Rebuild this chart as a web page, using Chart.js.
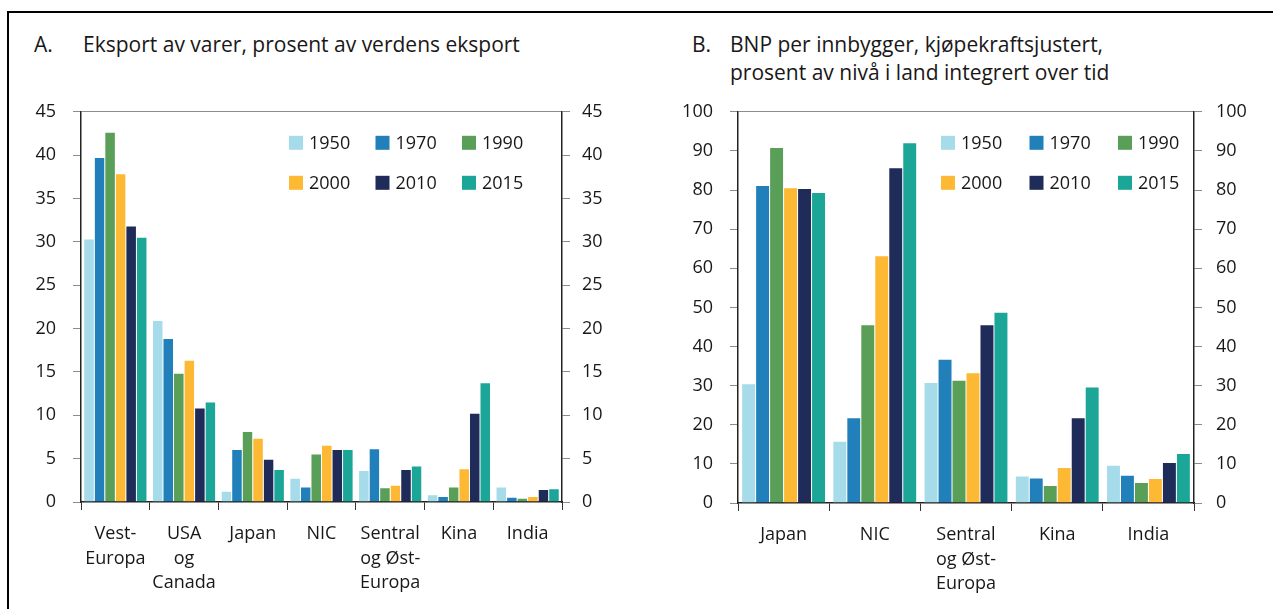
<!DOCTYPE html>
<html>
<head>
<meta charset="utf-8">
<script src="https://cdn.jsdelivr.net/npm/chart.js@4.4.1/dist/chart.umd.min.js"></script>
<style>
  html, body { margin: 0; padding: 0; background: #fff; overflow: hidden; }
  body { width: 1273px; height: 609px; position: relative; font-family: "Open Sans", sans-serif; color: #1a1718; }
  .frame { position: absolute; left: 7px; top: 11px; width: 1400px; height: 700px; border: 2px solid #000; }
  .title { position: absolute; font-size: 21px; line-height: 28px; white-space: nowrap; }
  .title .lbl { position: absolute; left: 0; top: 0; }
  .title .txt { position: absolute; top: 0; }
  .wrap { position: absolute; top: 84px; height: 525px; }
</style>
</head>
<body>
<div class="frame"></div>
<div class="title" style="left:34px; top:30px;">
  <span class="lbl">A.</span><span class="txt" style="left:49px;">Eksport av varer, prosent av verdens eksport</span>
</div>
<div class="title" style="left:692px; top:30px;">
  <span class="lbl">B.</span><span class="txt" style="left:38px;">BNP per innbygger, kjøpekraftsjustert,<br>prosent av nivå i land integrert over tid</span>
</div>
<div class="wrap" style="left:0; width:640px;"><canvas id="chartA" width="640" height="525"></canvas></div>
<div class="wrap" style="left:640px; width:633px;"><canvas id="chartB" width="633" height="525"></canvas></div>
<script>
  // Series names and colours
  const years = ['1950', '1970', '1990', '2000', '2010', '2015'];
  const colors = ['#a6dbe9', '#2180ba', '#5a9f58', '#fdb933', '#1f2b59', '#1ba698'];

  // A. Eksport av varer, prosent av verdens eksport
  const categoriesA = [['Vest-', 'Europa'], ['USA', 'og', 'Canada'], 'Japan', 'NIC', ['Sentral', 'og Øst-', 'Europa'], 'Kina', 'India'];
  const a1950 = [30.4, 21.0, 1.3, 2.8, 3.7, 0.9, 1.8];
  const a1970 = [39.8, 18.9, 6.1, 1.8, 6.2, 0.7, 0.6];
  const a1990 = [42.7, 14.9, 8.2, 5.6, 1.7, 1.8, 0.5];
  const a2000 = [37.9, 16.4, 7.4, 6.6, 2.0, 3.9, 0.7];
  const a2010 = [31.9, 10.9, 5.0, 6.1, 3.8, 10.3, 1.5];
  const a2015 = [30.6, 11.6, 3.8, 6.1, 4.2, 13.8, 1.6];

  // B. BNP per innbygger, kjøpekraftsjustert
  const categoriesB = ['Japan', 'NIC', ['Sentral', 'og Øst-', 'Europa'], 'Kina', 'India'];
  const b1950 = [30.6, 15.9, 30.9, 7.0, 9.8];
  const b1970 = [81.3, 21.9, 36.9, 6.5, 7.2];
  const b1990 = [91.0, 45.7, 31.5, 4.6, 5.4];
  const b2000 = [80.7, 63.3, 33.4, 9.2, 6.4];
  const b2010 = [80.5, 85.8, 45.7, 21.9, 10.5];
  const b2015 = [79.5, 92.2, 48.9, 29.8, 12.8];

  const textColor = '#1a1718';
  const fontSpec = { family: '"Open Sans", sans-serif', size: 18 };

  // Legend drawn as a 3 x 2 grid inside the plot area
  const gridLegend = {
    id: 'gridLegend',
    afterDraw(chart, args, opts) {
      const { ctx, chartArea } = chart;
      ctx.save();
      ctx.font = '18px "Open Sans", sans-serif';
      ctx.textBaseline = 'middle';
      ctx.textAlign = 'left';
      chart.data.datasets.forEach((ds, i) => {
        const col = i % 3, row = Math.floor(i / 3);
        const x = chartArea.left + opts.x + col * opts.colW;
        const y = chartArea.top + opts.y + row * opts.rowH;
        ctx.fillStyle = ds.backgroundColor;
        ctx.fillRect(x, y - 7, 14, 14);
        ctx.fillStyle = textColor;
        ctx.fillText(ds.label, x + 20, y + 1);
      });
      ctx.restore();
    }
  };

  function makeChart(id, labels, series, max, step, fit, legendPos) {
    const datasets = series.map((values, i) => ({
      label: years[i],
      data: values,
      backgroundColor: colors[i],
      borderColor: 'rgba(255,255,255,0.7)',
      borderWidth: { top: 1, left: 0.5, right: 0.5, bottom: 0 },
      borderSkipped: 'bottom',
      categoryPercentage: 0.92,
      barPercentage: 1.0,
      yAxisID: 'y'
    }));

    return new Chart(document.getElementById(id), {
      type: 'bar',
      data: { labels: labels, datasets: datasets },
      options: {
        responsive: false,
        animation: false,
        layout: { padding: 0 },
        plugins: {
          legend: { display: false },
          tooltip: { enabled: false },
          gridLegend: legendPos
        },
        scales: {
          x: {
            grid: { offset: true, drawOnChartArea: false, tickLength: 8, tickColor: '#333', lineWidth: 1 },
            border: { color: '#222', width: 1.5 },
            ticks: { color: textColor, font: Object.assign({ lineHeight: 1.35 }, fontSpec), padding: 12, maxRotation: 0, autoSkip: false },
            afterFit: s => { s.height = fit.bottom; }
          },
          y: {
            position: 'left',
            min: 0, max: max,
            grid: {
              color: c => (c.tick && c.tick.value === max) ? '#8c8c8c' : 'rgba(0,0,0,0)',
              tickColor: '#8c8c8c', tickLength: 8, lineWidth: 1
            },
            border: { color: '#222', width: 1.5 },
            ticks: { stepSize: step, color: textColor, font: fontSpec, padding: 17 },
            afterFit: s => { s.width = fit.left; }
          },
          y2: {
            position: 'right',
            min: 0, max: max,
            grid: { drawOnChartArea: false, tickColor: '#8c8c8c', tickLength: 8 },
            border: { color: '#222', width: 1.5 },
            ticks: { stepSize: step, color: textColor, font: fontSpec, padding: fit.rpad },
            afterFit: s => { s.width = fit.right; }
          }
        }
      },
      plugins: [gridLegend]
    });
  }

  makeChart('chartA', categoriesA, [a1950, a1970, a1990, a2000, a2010, a2015], 45, 5,
    { left: 81, right: 78, bottom: 107, rpad: 12 },
    { x: 208, y: 31, colW: 86.5, rowH: 40 });

  makeChart('chartB', categoriesB, [b1950, b1970, b1990, b2000, b2010, b2015], 100, 10,
    { left: 98, right: 79, bottom: 106, rpad: 14 },
    { x: 203, y: 31, colW: 88.5, rowH: 40 });
</script>
</body>
</html>
